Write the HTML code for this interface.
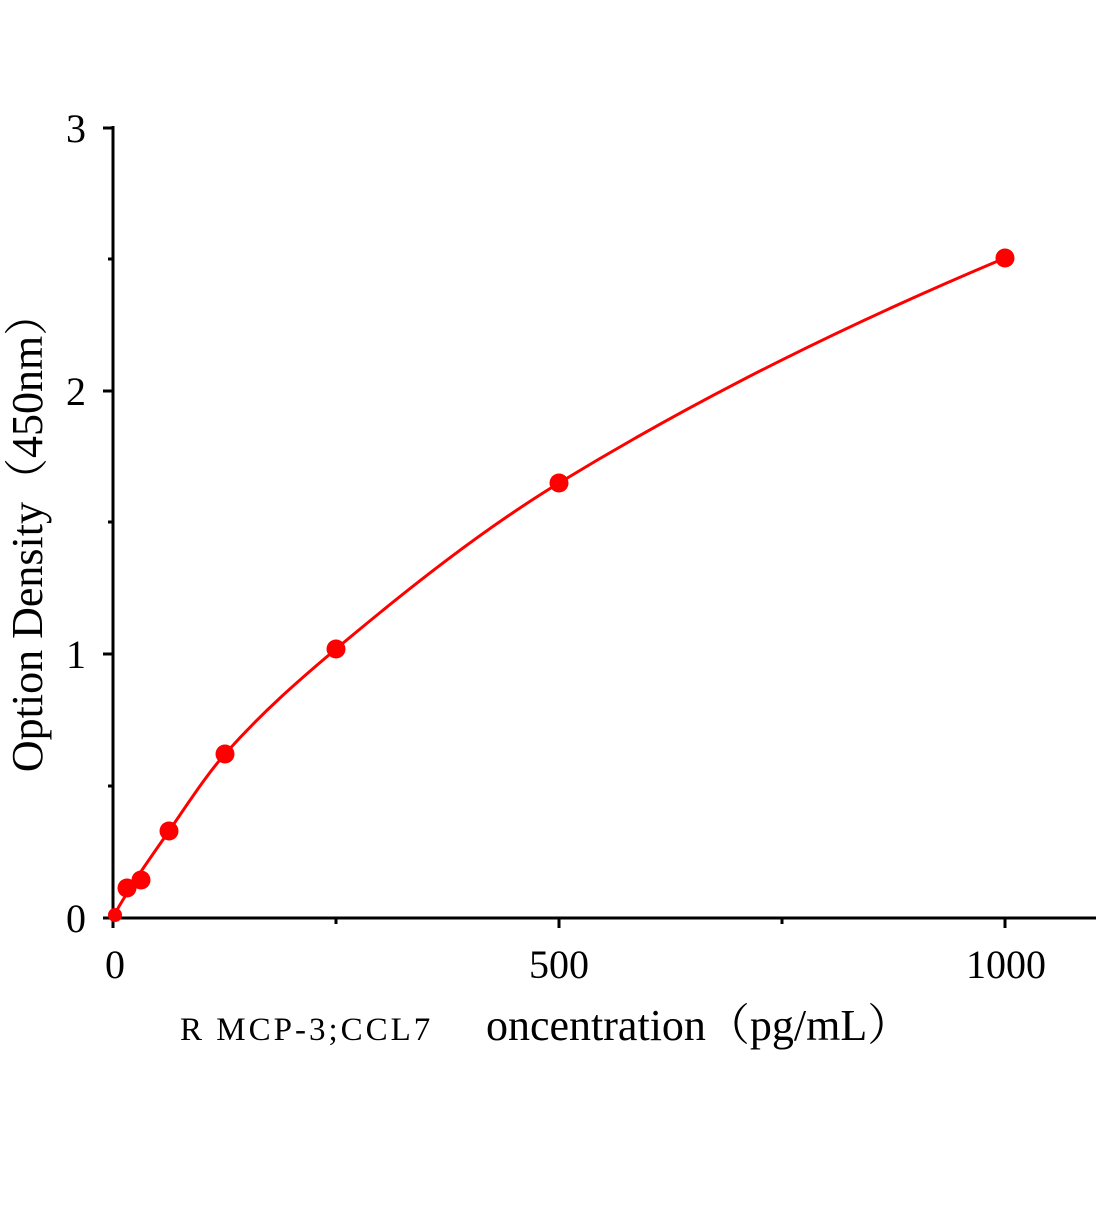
<!DOCTYPE html>
<html><head><meta charset="utf-8"><style>html,body{margin:0;padding:0;background:#fff}</style></head>
<body>
<svg width="1104" height="1200" viewBox="0 0 1104 1200" xmlns="http://www.w3.org/2000/svg" font-family="Liberation Serif, 'Noto Serif CJK SC', serif">
<rect width="1104" height="1200" fill="#fff"/>
<g stroke="#000" stroke-width="3" fill="none">
<line x1="113" y1="918" x2="1096" y2="918"/>
<line x1="113" y1="126" x2="113" y2="928"/>
<line x1="103" y1="128" x2="113" y2="128"/>
<line x1="103" y1="391" x2="113" y2="391"/>
<line x1="103" y1="654" x2="113" y2="654"/>
<line x1="103" y1="918" x2="113" y2="918"/>
<line x1="108" y1="259" x2="113" y2="259"/>
<line x1="108" y1="522" x2="113" y2="522"/>
<line x1="108" y1="786" x2="113" y2="786"/>
<line x1="559" y1="918" x2="559" y2="928"/>
<line x1="1005" y1="918" x2="1005" y2="928"/>
<line x1="336" y1="918" x2="336" y2="924"/>
<line x1="782" y1="918" x2="782" y2="924"/>
</g>
<g font-size="40" fill="#000">
<text x="86" y="142" text-anchor="end">3</text>
<text x="86" y="405" text-anchor="end">2</text>
<text x="86" y="668" text-anchor="end">1</text>
<text x="86" y="932" text-anchor="end">0</text>
<text x="115" y="978" text-anchor="middle">0</text>
<text x="559" y="978" text-anchor="middle">500</text>
<text x="1006" y="978" text-anchor="middle">1000</text>
</g>
<text transform="translate(42,532) rotate(-90)" font-size="44" text-anchor="middle">Option Density（450nm）</text>
<text x="180" y="1040" font-size="33" letter-spacing="3">R MCP-3;CCL7</text>
<text x="486" y="1040" font-size="44">oncentration（pg/mL）</text>
<path d="M113,917 C131.7,883.3 150.3,858.1 169,831 C187.7,803.9 206.3,775.1 225,754 C262,712.2 299,680.1 336,649 C410.3,586.6 484.7,528.3 559,483 C707.7,392.3 856.3,320.5 1005,258" stroke="#f00" stroke-width="3" fill="none"/>
<g fill="#f00">
<circle cx="115" cy="915" r="7"/>
<circle cx="127" cy="888" r="9.5"/>
<circle cx="141" cy="880" r="9.5"/>
<circle cx="169" cy="831" r="9.5"/>
<circle cx="225" cy="754" r="9.5"/>
<circle cx="336" cy="649" r="9.5"/>
<circle cx="559" cy="483" r="9.5"/>
<circle cx="1005" cy="258" r="9.5"/>
</g>
</svg>
</body></html>
